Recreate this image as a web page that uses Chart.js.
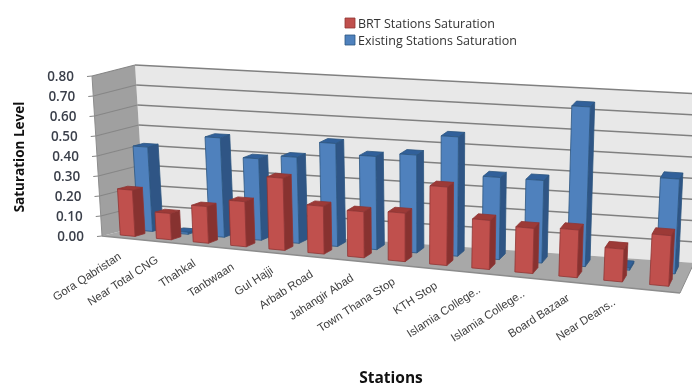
<!DOCTYPE html>
<html>
<head>
<meta charset="utf-8">
<style>
  html, body { margin: 0; padding: 0; background: #fff; }
  #wrap { width: 692px; height: 385px; }
</style>
</head>
<body>
<div id="wrap"><canvas id="myChart" width="692" height="385"></canvas></div>
<script src="https://cdn.jsdelivr.net/npm/chart.js@4"></script>
<script>
const stations = ["Gora Qabristan", "Near Total CNG", "Thahkal", "Tanbwaan", "Gul Hajji", "Arbab Road", "Jahangir Abad",
    "Town Thana Stop", "KTH Stop", "Islamia College..", "Islamia College..", "Board Bazaar", "Near Deans..", ""];
const brtSaturation = [0.23, 0.13, 0.18, 0.22, 0.35, 0.23, 0.22, 0.23, 0.37, 0.23, 0.21, 0.22, 0.15, 0.23];
const existingSaturation = [0.42, 0.01, 0.49, 0.40, 0.42, 0.50, 0.45, 0.47, 0.57, 0.39, 0.39, 0.75, 0.01, 0.44];

// corners of the 3D box on screen: f = front, b = back, B = bottom, T = top, L/R = left/right
const box = {
    fBL: [102, 236], fBR: [680, 293], fTL: [92, 76], fTR: [690, 115],
    bBL: [145, 225], bBR: [694, 263], bTL: [135, 65], bTR: [702, 94],
};
const foreshorten = 1.15;

function mix(a, b, t) {
    return [a[0] + (b[0] - a[0]) * t, a[1] + (b[1] - a[1]) * t];
}

// u along the categories, v up the value axis, d into the depth (all 0..1)
function project(u, v, d) {
    const s = u / (u + (1 - u) * foreshorten);
    const front = mix(mix(box.fBL, box.fBR, s), mix(box.fTL, box.fTR, s), v);
    const back = mix(mix(box.bBL, box.bBR, s), mix(box.bTL, box.bTR, s), v);
    return mix(front, back, d);
}

function poly(ctx, pts, fill, stroke) {
    ctx.beginPath();
    pts.forEach((p, i) => (i ? ctx.lineTo(p[0], p[1]) : ctx.moveTo(p[0], p[1])));
    ctx.closePath();
    ctx.fillStyle = fill;
    ctx.fill();
    if (stroke) {
        ctx.strokeStyle = stroke;
        ctx.lineWidth = 0.8;
        ctx.stroke();
    }
}

function line(ctx, a, b, color, width) {
    ctx.beginPath();
    ctx.moveTo(a[0], a[1]);
    ctx.lineTo(b[0], b[1]);
    ctx.strokeStyle = color;
    ctx.lineWidth = width;
    ctx.stroke();
}

function drawWalls(chart) {
    const ctx = chart.ctx;
    const y = chart.scales.y;
    const vOf = (val) => (y.bottom - y.getPixelForValue(val)) / (y.bottom - y.top);

    poly(ctx, [box.bBL, box.bBR, box.bTR, box.bTL], "#e8e8e8");
    poly(ctx, [box.fBL, box.bBL, box.bTL, box.fTL], "#a0a0a0");
    poly(ctx, [box.fBL, box.fBR, box.bBR, box.bBL], "#a8a8a8");

    y.ticks.forEach((t) => {
        const v = vOf(t.value);
        if (t.value > 0) {
            line(ctx, project(0, v, 1), project(1, v, 1), "#808080", 1.5);
            line(ctx, project(0, v, 0), project(0, v, 1), "#868686", 1.2);
        }
        const p = project(0, v, 0);
        line(ctx, p, [p[0] - 5, p[1] + 0.5], "#868686", 1.2);
    });
    line(ctx, box.fBL, box.fBR, "#8c8c8c", 1.4);
    line(ctx, box.fBR, box.bBR, "#8c8c8c", 1);
    line(ctx, box.fBL, box.fTL, "#8c8c8c", 1);
}

// row = [front depth, back depth] of a series' bars on the floor
function drawBars(chart, index, row, sideColor, topColor, edge) {
    const ctx = chart.ctx;
    const y = chart.scales.y;
    const w = chart.width;
    const dataset = chart.data.datasets[index];
    chart.getDatasetMeta(index).data.forEach((el) => {
        const u0 = (el.x - el.width / 2) / w;
        const u1 = (el.x + el.width / 2) / w;
        const v = (y.bottom - el.y) / (y.bottom - y.top);
        const [d0, d1] = row;
        poly(ctx, [project(u1, 0, d0), project(u1, 0, d1), project(u1, v, d1), project(u1, v, d0)], sideColor, edge);
        poly(ctx, [project(u0, v, d0), project(u1, v, d0), project(u1, v, d1), project(u0, v, d1)], topColor, edge);
        poly(ctx, [project(u0, 0, d0), project(u1, 0, d0), project(u1, v, d0), project(u0, v, d0)], dataset.backgroundColor, edge);
    });
}

function drawText(chart) {
    const ctx = chart.ctx;
    const y = chart.scales.y;

    // value axis labels sit left of the slanted front edge
    ctx.font = "600 13.5px 'Open Sans'";
    ctx.fillStyle = "#3a3f4a";
    ctx.textAlign = "right";
    ctx.textBaseline = "middle";
    y.ticks.forEach((t) => {
        const p = project(0, (y.bottom - y.getPixelForValue(t.value)) / (y.bottom - y.top), 0);
        ctx.fillText(t.label, p[0] - 18, p[1] + 1);
    });

    // station labels, rotated and anchored at their right end
    ctx.font = "11.5px 'Liberation Sans'";
    ctx.fillStyle = "#404040";
    ctx.textBaseline = "middle";
    chart.data.labels.forEach((label, i) => {
        const x = chart.scales.x.getPixelForValue(i) / chart.width;
        const p = project(x, 0, 0);
        ctx.save();
        ctx.translate(p[0] + 5 * x, p[1] + 18 - 3 * x);
        ctx.rotate(-33 * Math.PI / 180);
        ctx.fillText(label, 0, 0);
        ctx.restore();
    });

    // axis titles
    ctx.fillStyle = "#111";
    ctx.textAlign = "center";
    ctx.font = "bold 15.5px 'Open Sans'";
    ctx.fillText("Stations", 391, 379);
    ctx.save();
    ctx.translate(20, 157);
    ctx.rotate(-Math.PI / 2);
    ctx.font = "bold 13.5px 'Open Sans'";
    ctx.fillText("Saturation Level", 0, 0);
    ctx.restore();

    // legend
    ctx.textAlign = "left";
    ctx.font = "12.5px 'Open Sans'";
    chart.data.datasets.forEach((ds, i) => {
        const top = 18 + i * 17;
        poly(ctx, [[345, top], [355, top], [355, top + 10], [345, top + 10]], ds.backgroundColor, ds.borderColor);
        ctx.fillStyle = "#333";
        ctx.fillText(ds.label, 358, top + 6);
    });
}

const box3d = {
    id: "box3d",
    beforeDatasetsDraw(chart) {
        drawWalls(chart);
        drawBars(chart, 1, [0.6, 0.85], "#2f5585", "#31609a", "#2c5580");
        drawBars(chart, 0, [0.18, 0.42], "#873230", "#9c3a37", "#8f3533");
        drawText(chart);
        return false; // flat bars are replaced by the boxes above
    },
};

new Chart(document.getElementById("myChart"), {
    type: "bar",
    data: {
        labels: stations,
        datasets: [
            { label: "BRT Stations Saturation", data: brtSaturation, backgroundColor: "#c0504d", borderColor: "#8f3533" },
            { label: "Existing Stations Saturation", data: existingSaturation, backgroundColor: "#4f81bd", borderColor: "#2c5580" },
        ],
    },
    options: {
        responsive: false,
        animation: false,
        grouped: false,
        barPercentage: 0.41,
        categoryPercentage: 1,
        plugins: { legend: { display: false }, tooltip: { enabled: false } },
        scales: {
            x: { display: false, ticks: { autoSkip: false } },
            y: { display: false, min: 0, max: 0.8, ticks: { stepSize: 0.1, callback: (v) => v.toFixed(2) } },
        },
    },
    plugins: [box3d],
});
</script>
</body>
</html>
